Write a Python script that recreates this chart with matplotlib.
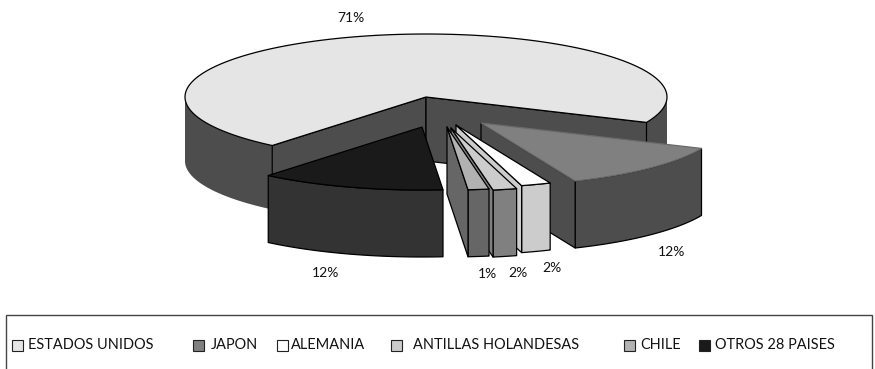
import numpy as np
import matplotlib
matplotlib.use("Agg")
import matplotlib.pyplot as plt
from matplotlib.patches import Polygon, Rectangle

# Export shares by destination, in percent
countries = ["ESTADOS UNIDOS", "JAPON", "ALEMANIA", "ANTILLAS HOLANDESAS", "CHILE", "OTROS 28 PAISES"]
shares = [70.6, 12.0, 2.0, 1.6, 1.4, 12.4]

# Appearance of each slice
top_colors = ["#e5e5e5", "#808080", "#ffffff", "#cccccc", "#b2b2b2", "#1a1a1a"]
side_colors = ["#4d4d4d", "#4d4d4d", "#cccccc", "#808080", "#666666", "#333333"]
top_edges = ["black", "#6a6a6a", "black", "black", "black", "black"]
rim_edges = ["none", "black", "black", "black", "black", "black"]
apex_px = [(426, 97), (481, 123), (456, 125), (451, 128), (447, 127), (422, 127)]
depths_px = [64, 67, 67, 67, 67, 67]
label_px = [(351, 18), (672, 252), (552, 268), (518, 273), (487, 274), (326, 273)]
legend_swatch_x = [12, 193, 277, 391, 624, 699]
legend_text_x = [28, 211, 291, 413, 640, 715]

RX, RY = 241, 63
FIRST_ANGLE = -23.8
FONT = "Lato"

fig = plt.figure(figsize=(8.75, 3.69), dpi=100)
ax = fig.add_axes([0, 0, 1, 1])
ax.set_xlim(0, 875)
ax.set_ylim(369, 0)
ax.axis("off")


def rim(apex, degrees):
    a = np.radians(degrees)
    return np.column_stack([apex[0] + RX * np.cos(a), apex[1] - RY * np.sin(a)])


def add_wall(points, depth, color, edge, z):
    upper = np.asarray(points)
    lower = (upper + [0, depth])[::-1]
    ax.add_patch(Polygon(np.vstack([upper, lower]), closed=True, facecolor=color,
                         edgecolor=edge, linewidth=0.9, joinstyle="round", zorder=z))


# Slices run clockwise from the first angle, the first share being drawn last in angle
sweeps = 3.6 * np.array(shares)
order = [1, 2, 3, 4, 5, 0]
angle = FIRST_ANGLE
ranges = {}
for i in order:
    ranges[i] = (angle, angle - sweeps[i])
    angle -= sweeps[i]

for z, i in enumerate(range(len(shares))):
    start, end = ranges[i]
    apex = np.array(apex_px[i], dtype=float)
    depth = depths_px[i]
    base = 10 * z + 1

    # Radial cut faces that turn toward the viewer
    if np.cos(np.radians(start)) < 0:
        add_wall(np.vstack([apex, rim(apex, [start])]), depth, side_colors[i], "black", base + 1)
    if np.cos(np.radians(end)) > 0:
        add_wall(np.vstack([apex, rim(apex, [end])]), depth, side_colors[i], "black", base + 1)

    # Outer rim on the near half of the ellipse
    for k in (0, -360):
        lo, hi = max(end, -180 + k), min(start, k)
        if hi > lo:
            add_wall(rim(apex, np.linspace(lo, hi, 80)), depth, side_colors[i], rim_edges[i], base)

    # Top face
    arc = rim(apex, np.linspace(start, end, 200))
    ax.add_patch(Polygon(np.vstack([apex, arc]), closed=True, facecolor=top_colors[i],
                         edgecolor=top_edges[i], linewidth=0.9, joinstyle="round",
                         zorder=base + 2))

    ax.text(*label_px[i], f"{round(shares[i])}%", ha="center", va="center",
            family=FONT, fontsize=10, color="#111111", zorder=100)

# Legend frame runs off the bottom of the figure
ax.add_patch(Rectangle((6, 314.5), 866, 70, facecolor="white", edgecolor="#444444",
                       linewidth=1.0, clip_on=True, zorder=90))
for name, color, sx, tx in zip(countries, top_colors, legend_swatch_x, legend_text_x):
    ax.add_patch(Rectangle((sx, 339.5), 11, 11, facecolor=color, edgecolor="#222222",
                           linewidth=0.8, zorder=91))
    ax.text(tx, 345, name, ha="left", va="center", family=FONT, fontsize=10.45,
            color="#111111", zorder=92)

fig.savefig("out.png", dpi=100, facecolor="white")
